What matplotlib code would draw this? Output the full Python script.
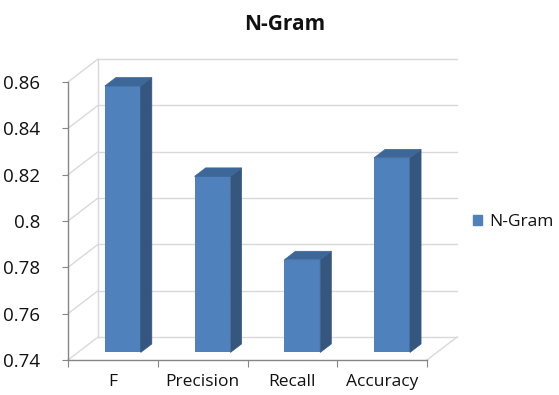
import matplotlib
matplotlib.use("Agg")
import matplotlib.pyplot as plt
from matplotlib.patches import Polygon, Patch
import numpy as np

categories = ["F", "Precision", "Recall", "Accuracy"]
values = [0.855, 0.816, 0.780, 0.824]
series_name = "N-Gram"
yticks = [0.74, 0.76, 0.78, 0.8, 0.82, 0.84, 0.86]
ytick_labels = ["0.74", "0.76", "0.78", "0.8", "0.82", "0.84", "0.86"]
title = "N-Gram"

plt.rcParams['font.family'] = ['Open Sans', 'DejaVu Sans']

FRONT = "#4F81BD"
SIDE = "#34567F"
TOP = "#3E6799"
GRID = "#D9D9D9"
AXIS = "#868686"
TEXT = "#111111"

fig = plt.figure(figsize=(5.59, 3.95), dpi=100)
ax = fig.add_axes([68/559, 35/395, 359/559, 278/395])
ymin, ymax = yticks[0], yticks[-1]
n = len(categories)
ax.set_xlim(0, n)
ax.set_ylim(ymin, ymax)

# depth vector (oblique projection) in data units
dx, dy = 0.334, 0.0099

# walls / grid
for t in yticks:
    ax.plot([dx, n + dx], [t + dy, t + dy], color=GRID, lw=1, clip_on=False, zorder=1)
    ax.plot([0, dx], [t, t + dy], color=GRID, lw=1, clip_on=False, zorder=1)
ax.plot([dx, dx], [ymin + dy, ymax + dy], color=GRID, lw=1, clip_on=False, zorder=1)
ax.plot([n, n + dx], [ymin, ymin + dy], color=GRID, lw=1, clip_on=False, zorder=1)

# bars
f0 = 0.33      # depth position of bar front
bd = 0.37      # bar depth fraction
w = 0.40       # bar width
xs = np.arange(n) + 0.5 + f0 * dx
bottom = ymin + f0 * dy
ax.bar(xs, [v - ymin for v in values], bottom=bottom, width=w, color=FRONT,
       zorder=3, clip_on=False)
for xc, v in zip(xs, values):
    x0, x1 = xc - w / 2, xc + w / 2
    top = v + f0 * dy
    side = Polygon([(x1, bottom), (x1, top), (x1 + bd * dx, top + bd * dy),
                    (x1 + bd * dx, bottom + bd * dy)], closed=True,
                   facecolor=SIDE, edgecolor=SIDE, lw=0.5, zorder=3, clip_on=False)
    topp = Polygon([(x0, top), (x1, top), (x1 + bd * dx, top + bd * dy),
                    (x0 + bd * dx, top + bd * dy)], closed=True,
                   facecolor=TOP, edgecolor=TOP, lw=0.5, zorder=3, clip_on=False)
    ax.add_patch(side)
    ax.add_patch(topp)

# axes styling
for s in ["top", "right"]:
    ax.spines[s].set_visible(False)
for s in ["left", "bottom"]:
    ax.spines[s].set_color(AXIS)
    ax.spines[s].set_linewidth(1)
    ax.spines[s].set_zorder(2)

ax.set_yticks(yticks)
ax.set_yticklabels(ytick_labels, fontsize=13.5, color=TEXT)
ax.tick_params(axis="y", length=4, color=AXIS, pad=16)

ax.set_xticks(np.arange(n + 1))
ax.set_xticklabels([])
ax.set_xticks(np.arange(n) + 0.5, minor=True)
ax.set_xticklabels(categories, minor=True, fontsize=12.5, color=TEXT)
ax.tick_params(axis="x", which="major", length=5, color=AXIS)
ax.tick_params(axis="x", which="minor", length=0, pad=10)

fig.text(285/559, 1 - 25/395, title, ha="center", va="center",
         fontsize=15, fontweight="bold", color=TEXT)

fig.legend(handles=[Patch(facecolor=FRONT, edgecolor=FRONT, label=series_name)],
           loc="center left", bbox_to_anchor=(457/559, 1 - 222/395), frameon=False,
           handlelength=0.55, handleheight=0.55, handletextpad=0.4, fontsize=12.5,
           labelcolor=TEXT)

fig.savefig("out.png", dpi=100)
